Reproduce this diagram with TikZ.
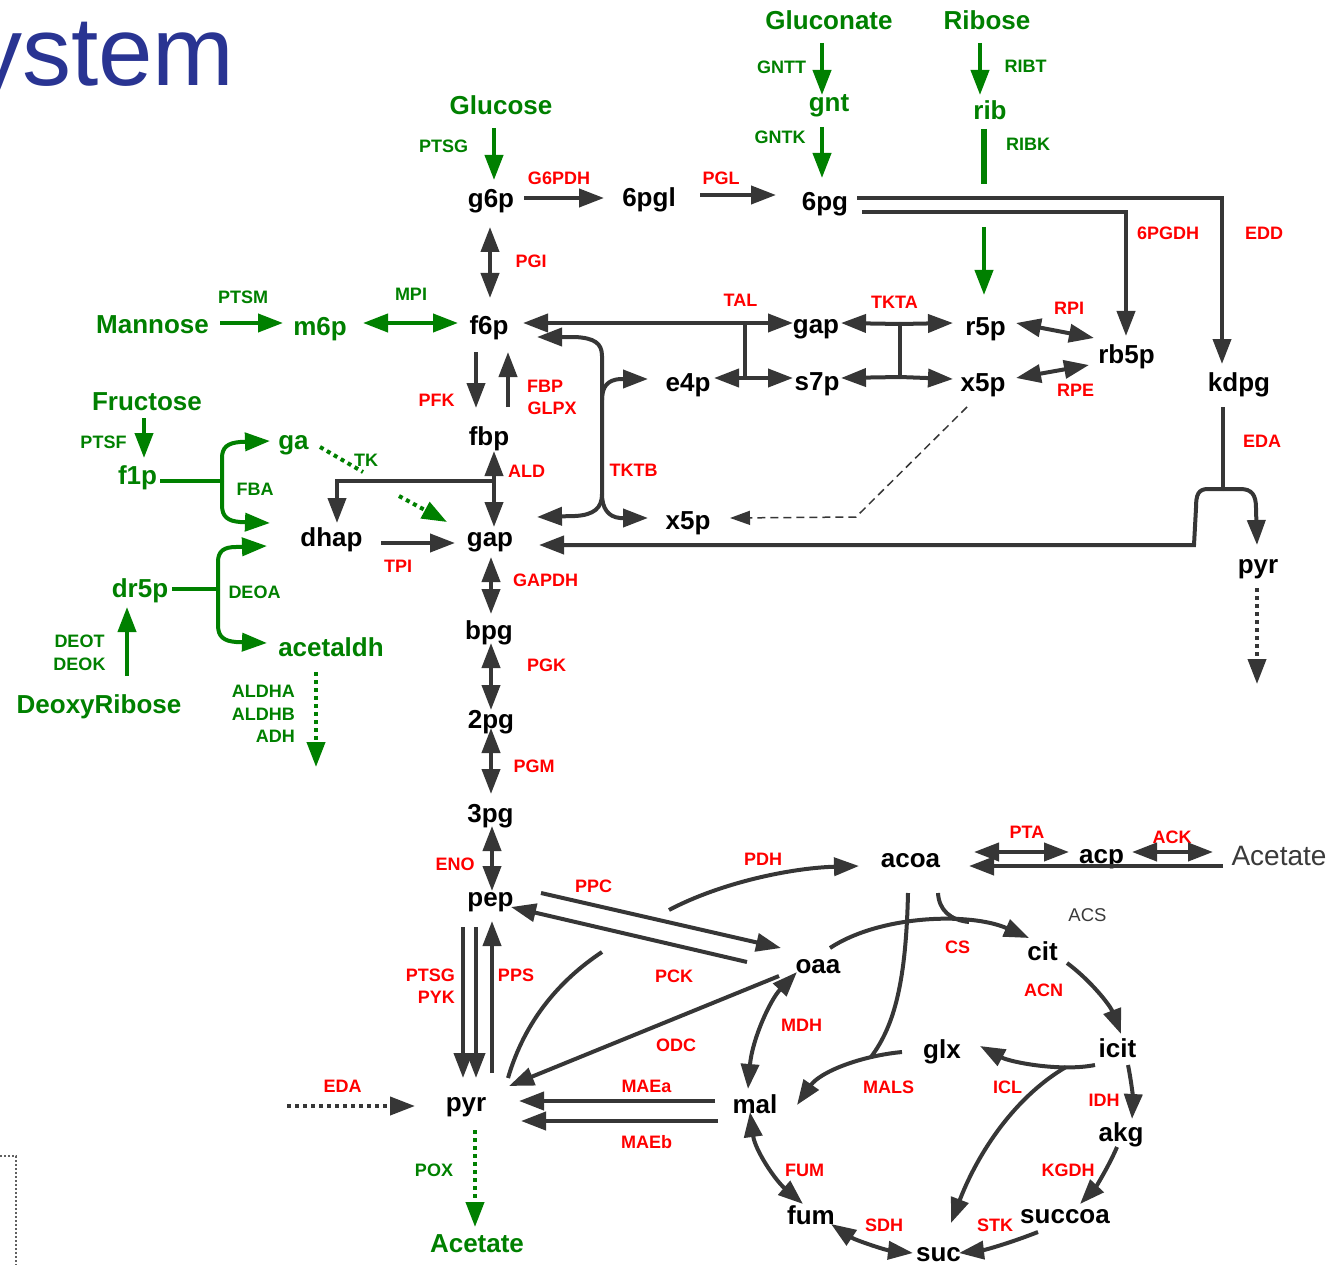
\documentclass[tikz,border=0pt]{standalone}
\usepackage{fontspec}
\setmainfont{Liberation Sans}
\usetikzlibrary{arrows.meta}
\definecolor{lc}{HTML}{363636}
\definecolor{gc}{HTML}{008000}
\definecolor{rc}{HTML}{FF0000}
\definecolor{tc}{HTML}{293492}
\definecolor{ac}{HTML}{3A3A3A}
\begin{document}
\begin{tikzpicture}[x=1pt,y=-1pt,
  >={Triangle[length=25pt,width=18pt]},
  ln/.style={line width=4pt, draw=lc},
  gl/.style={line width=4pt, draw=gc},
  dotln/.style={dash pattern=on 4pt off 4pt},
  met/.style={font=\fontsize{26}{28}\selectfont\bfseries, inner sep=0pt, text=black},
  gmet/.style={met, text=gc},
  enz/.style={font=\fontsize{18}{20}\selectfont\bfseries, inner sep=0pt, text=rc},
  genz/.style={enz, text=gc},
  gry/.style={inner sep=0pt, text=ac},
]
\useasboundingbox (0,0) rectangle (1333,1265);
\begin{scope}
\clip (0,0) rectangle (1333,1265);
\node[anchor=base west, inner sep=0pt, text=tc, font=\fontsize{98}{98}\selectfont] (title) at (-27,86) {ystem};
\end{scope}

% ---------- green metabolites ----------
\node[gmet] (gluconate) at (829,20.5) {Gluconate};
\node[gmet] (ribose) at (987,20.5) {Ribose};
\node[gmet] (gnt) at (829,106) {gnt};
\node[gmet] (rib) at (990,110) {rib};
\node[gmet] (glucose) at (501,105) {Glucose};
\node[gmet] (mannose) at (152.5,325) {Mannose};
\node[gmet] (m6p) at (320,329) {m6p};
\node[gmet] (fructose) at (147,402) {Fructose};
\node[gmet] (f1p) at (137.5,477.5) {f1p};
\node[gmet] (ga) at (293.5,445) {ga};
\node[gmet] (dr5p) at (140,591) {dr5p};
\node[gmet] (acetaldh) at (331,647) {acetaldh};
\node[gmet] (deoxy) at (99,707) {DeoxyRibose};
\node[gmet] (acetate) at (477,1244) {Acetate};

% ---------- green enzymes ----------
\node[genz] (gntt) at (781.5,67) {GNTT};
\node[genz] (gntk) at (780,137) {GNTK};
\node[genz] (ribt) at (1025.5,66) {RIBT};
\node[genz] (ribk) at (1028,144.5) {RIBK};
\node[genz] (ptsg) at (443.5,146) {PTSG};
\node[genz] (ptsm) at (243,297) {PTSM};
\node[genz] (mpi) at (411,294.5) {MPI};
\node[genz] (ptsf) at (103.5,442.5) {PTSF};
\node[genz] (tk) at (366,460) {TK};
\node[genz] (fba) at (255,489.5) {FBA};
\node[genz] (deoa) at (254.5,592) {DEOA};
\node[genz] (deot) at (79.5,641.5) {DEOT};
\node[genz] (deok) at (79.5,664) {DEOK};
\node[genz, anchor=east] (aldha) at (295,691.5) {ALDHA};
\node[genz, anchor=east] (aldhb) at (295,714.5) {ALDHB};
\node[genz, anchor=east] (adh) at (295,736.5) {ADH};
\node[genz] (pox) at (434,1170) {POX};

% ---------- black metabolites ----------
\node[met] (g6p) at (491,201.5) {g6p};
\node[met] (pgl6) at (649,200) {6pgl};
\node[met] (pg6) at (825,204) {6pg};
\node[met] (f6p) at (489,328) {f6p};
\node[met] (fbp) at (489,439) {fbp};
\node[met] (gap) at (490,542.5) {gap};
\node[met] (dhap) at (331.5,539.5) {dhap};
\node[met] (bpg) at (489,632.5) {bpg};
\node[met] (pg2) at (491,722.5) {2pg};
\node[met] (pg3) at (490.5,816) {3pg};
\node[met] (pep) at (490.5,902.5) {pep};
\node[met] (pyr) at (466,1107) {pyr};
\node[met] (gapb) at (816,329) {gap};
\node[met] (e4p) at (688,385) {e4p};
\node[met] (s7p) at (817,384.5) {s7p};
\node[met] (r5p) at (985.5,329) {r5p};
\node[met] (x5p) at (983,385) {x5p};
\node[met] (rb5p) at (1126.5,356.5) {rb5p};
\node[met] (kdpg) at (1239,384.5) {kdpg};
\node[met] (x5pb) at (688,523.5) {x5p};
\node[met] (pyrb) at (1258,569.5) {pyr};
\node[met] (acoa) at (910.5,861) {acoa};
\node[met] (acp) at (1101.5,859) {acp};
\node[met] (oaa) at (818,967) {oaa};
\node[met] (cit) at (1042.5,951) {cit};
\node[met] (icit) at (1117.5,1048.5) {icit};
\node[met] (glx) at (942,1051.5) {glx};
\node[met] (mal) at (755,1104) {mal};
\node[met] (akg) at (1121,1135) {akg};
\node[met] (fum) at (811,1215) {fum};
\node[met] (succoa) at (1065,1216.5) {succoa};
\node[met] (suc) at (938.5,1255) {suc};
\node[gry, font=\fontsize{28}{30}\selectfont] (acetateb) at (1279,856) {Acetate};
\node[gry, font=\fontsize{18.5}{20}\selectfont] (acs) at (1087.5,915.5) {ACS};

% ---------- red enzymes ----------
\node[enz] (g6pdh) at (559,178.5) {G6PDH};
\node[enz] (pgl) at (721,178.5) {PGL};
\node[enz] (pgi) at (531,261) {PGI};
\node[enz] (pgdh) at (1168,233.5) {6PGDH};
\node[enz] (edd) at (1264,233.5) {EDD};
\node[enz] (tal) at (740.5,300) {TAL};
\node[enz] (tkta) at (894.5,302.5) {TKTA};
\node[enz] (rpi) at (1069,308) {RPI};
\node[enz] (rpe) at (1075.5,390.5) {RPE};
\node[enz] (pfk) at (436.5,400.5) {PFK};
\node[enz] (fbpe) at (545,386) {FBP};
\node[enz] (glpx) at (552,408.5) {GLPX};
\node[enz] (ald) at (526.5,471.5) {ALD};
\node[enz] (tktb) at (633.5,470) {TKTB};
\node[enz] (tpi) at (398,566) {TPI};
\node[enz] (gapdh) at (545.5,580.5) {GAPDH};
\node[enz] (pgk) at (546.5,665.5) {PGK};
\node[enz] (pgm) at (534,766.5) {PGM};
\node[enz] (eda) at (1262,441.5) {EDA};
\node[enz] (eno) at (455,864) {ENO};
\node[enz] (ppc) at (593.5,886) {PPC};
\node[enz] (pdh) at (763,859) {PDH};
\node[enz, anchor=east] (ptsgb) at (455,975) {PTSG};
\node[enz, anchor=east] (pyk) at (455,997.5) {PYK};
\node[enz] (pps) at (516,975) {PPS};
\node[enz] (pck) at (674,976) {PCK};
\node[enz] (odc) at (676,1045) {ODC};
\node[enz] (cs) at (957.5,947.5) {CS};
\node[enz] (acn) at (1043.5,990) {ACN};
\node[enz] (mdh) at (801.5,1025) {MDH};
\node[enz] (mals) at (888.5,1087.5) {MALS};
\node[enz] (icl) at (1007.5,1087.5) {ICL};
\node[enz] (idh) at (1104,1100) {IDH};
\node[enz] (edab) at (342.5,1086) {EDA};
\node[enz] (maea) at (646.5,1086) {MAEa};
\node[enz] (maeb) at (646.5,1142) {MAEb};
\node[enz] (fume) at (804.5,1170) {FUM};
\node[enz] (kgdh) at (1068,1170) {KGDH};
\node[enz] (sdh) at (884,1225) {SDH};
\node[enz] (stk) at (995,1225) {STK};
\node[enz] (pta) at (1027,832) {PTA};
\node[enz] (ack) at (1172,837) {ACK};

% ---------- connector end points ----------
\coordinate (gluconate-s) at (822,43);
\coordinate (gnt-n) at (822,95);
\coordinate (gnt-s) at (822,127);
\coordinate (pg6-n) at (822,178);
\coordinate (ribose-s) at (980,43);
\coordinate (rib-n) at (980,95);
\coordinate (rib-s) at (984,129);
\coordinate (ribk-e) at (984,184);
\coordinate (ribk-r) at (984,227);
\coordinate (r5p-n) at (984,295);
\coordinate (glucose-s) at (494,128);
\coordinate (g6p-n) at (494,180);
\coordinate (mannose-e) at (220,323);
\coordinate (m6p-w) at (283,323);
\coordinate (m6p-e) at (363,323);
\coordinate (f6p-w) at (458,323);
\coordinate (fructose-s) at (144,418);
\coordinate (f1p-n) at (144,458);
\coordinate (f1p-e) at (160,481);
\coordinate (fba-j) at (222,481);
\coordinate (fba-t) at (222,458);
\coordinate (fba-b) at (222,505);
\coordinate (ga-w) at (270,441);
\coordinate (dhap-nw) at (270,523);
\coordinate (ga-e) at (320,447);
\coordinate (tk-a) at (363,472);
\coordinate (tk-b) at (399,496);
\coordinate (gap-nw) at (447,522);
\coordinate (dr5p-e) at (172,589);
\coordinate (deoa-j) at (218,589);
\coordinate (deoa-t) at (218,562);
\coordinate (deoa-b) at (218,625);
\coordinate (dhap-sw) at (267,546);
\coordinate (acetaldh-w) at (267,643);
\coordinate (deoxy-n) at (127,676);
\coordinate (dr5p-s) at (127,607);
\coordinate (acetaldh-s) at (316,672);
\coordinate (aldh-end) at (316,767);
\coordinate (pyr-s) at (475,1130);
\coordinate (acetate-n) at (475,1227);

\coordinate (g6p-e) at (524,198);
\coordinate (pgl6-w) at (604,198);
\coordinate (pgl6-e) at (700,195);
\coordinate (pg6-w) at (776,195);
\coordinate (g6p-s) at (490,227);
\coordinate (f6p-n) at (490,298);
\coordinate (pg6-e1) at (857,198);
\coordinate (edd-c) at (1222,198);
\coordinate (kdpg-n) at (1222,364);
\coordinate (pg6-e2) at (862,212);
\coordinate (pgdh-c) at (1126,212);
\coordinate (rb5p-n) at (1126,336);
\coordinate (f6p-s1) at (476,352);
\coordinate (fbp-n1) at (476,408);
\coordinate (fbp-n2) at (508,407);
\coordinate (f6p-s2) at (508,352);
\coordinate (fbp-s) at (494,451);
\coordinate (gap-n) at (494,527);
\coordinate (ald-j) at (494,481);
\coordinate (ald-c) at (337,481);
\coordinate (dhap-n) at (337,523);
\coordinate (dhap-e) at (381,543);
\coordinate (gap-w) at (455,543);
\coordinate (gap-s) at (491,557);
\coordinate (bpg-n) at (491,614);
\coordinate (bpg-s) at (491,643);
\coordinate (pg2-n) at (491,710);
\coordinate (pg2-s) at (491,728);
\coordinate (pg3-n) at (491,794);
\coordinate (pg3-s) at (492,826);
\coordinate (pep-n) at (492,891);
\coordinate (pep-s1) at (463,927);
\coordinate (pyr-n1) at (463,1078);
\coordinate (pep-s2) at (476,927);
\coordinate (pyr-n2) at (476,1078);
\coordinate (pyr-n3) at (492,1073);
\coordinate (pep-s3) at (492,921);
\coordinate (pep-e1) at (541,893);
\coordinate (oaa-w1) at (781,948);
\coordinate (oaa-w2) at (747,962);
\coordinate (pep-e2) at (511,907);
\coordinate (oaa-w3) at (779,976);
\coordinate (pyr-ne) at (509,1086);
\coordinate (pyr-ne2) at (508,1078);
\coordinate (pdh-a) at (602,952);
\coordinate (pdh-b) at (669,910);
\coordinate (acoa-w) at (859,866);
\coordinate (mal-w1) at (715,1101);
\coordinate (pyr-e1) at (519,1101);
\coordinate (mal-w2) at (718,1121);
\coordinate (pyr-e2) at (521,1121);
\coordinate (eda-start) at (287,1106);
\coordinate (pyr-w) at (415,1106);

\coordinate (tal-t) at (745,323);
\coordinate (tal-b) at (745,378);
\coordinate (f6p-e) at (523,323);
\coordinate (gapb-w) at (793,323);
\coordinate (e4p-e) at (714,378);
\coordinate (s7p-w) at (793,378);
\coordinate (ta-t) at (900,324);
\coordinate (ta-b) at (900,377);
\coordinate (gapb-e) at (841,323);
\coordinate (r5p-w) at (953,323);
\coordinate (s7p-e) at (841,378);
\coordinate (x5p-w) at (953,379);
\coordinate (tb-m) at (602,380);
\coordinate (tb-e) at (602,400);
\coordinate (tb-b) at (602,494);
\coordinate (f6p-se) at (537,337);
\coordinate (gap-ne) at (537,517);
\coordinate (e4p-w) at (648,379);
\coordinate (x5pb-w) at (648,518);
\coordinate (r5p-e) at (1016,323);
\coordinate (rb5p-w1) at (1094,338);
\coordinate (x5p-e) at (1016,378);
\coordinate (rb5p-w2) at (1089,365);
\coordinate (x5p-s) at (967,407);
\coordinate (xd-c) at (856,517);
\coordinate (x5pb-e) at (730,518);
\coordinate (kdpg-s) at (1223,407);
\coordinate (eda-j) at (1223,489);
\coordinate (pyrb-n) at (1257,545);
\coordinate (eda-c) at (1194,545);
\coordinate (gap-e) at (539,545);
\coordinate (pyrb-s) at (1257,588);
\coordinate (pyrb-end) at (1257,684);

\coordinate (acoa-e1) at (974,852);
\coordinate (acp-w) at (1069,852);
\coordinate (acp-e) at (1132,852);
\coordinate (acetateb-w) at (1213,852);
\coordinate (acetateb-sw) at (1223,866);
\coordinate (acoa-e2) at (969,866);
\coordinate (oaa-ne) at (830,948);
\coordinate (cit-w) at (1029,938);
\coordinate (acoa-se) at (938,893);
\coordinate (cs-j) at (969,922);
\coordinate (acoa-s) at (908,893);
\coordinate (mals-j) at (871,1057);
\coordinate (glx-w) at (902,1052);
\coordinate (mal-ne) at (797,1105);
\coordinate (oaa-sw) at (797,972);
\coordinate (mal-n) at (748,1089);
\coordinate (mal-s) at (750,1112);
\coordinate (fum-n) at (803,1204);
\coordinate (fum-e) at (831,1224);
\coordinate (suc-w) at (913,1253);
\coordinate (succoa-sw) at (1038,1232);
\coordinate (suc-e) at (959,1253);
\coordinate (akg-s) at (1117,1147);
\coordinate (succoa-n) at (1080,1204);
\coordinate (icit-s) at (1128,1065);
\coordinate (akg-n) at (1132,1119);
\coordinate (cit-se) at (1067,963);
\coordinate (icit-n) at (1121,1034);
\coordinate (icit-sw) at (1095,1065);
\coordinate (glx-e) at (980,1046);
\coordinate (icl-j) at (1066,1067);
\coordinate (suc-n) at (951,1223);
\coordinate (box-a) at (0,1156);
\coordinate (box-b) at (16,1156);
\coordinate (box-c) at (16,1265);

% ---------- green connectors ----------
\draw[gl,->] (gluconate-s) -- (gnt-n);
\draw[gl,->] (gnt-s) -- (pg6-n);
\draw[gl,->] (ribose-s) -- (rib-n);
\draw[draw=gc, line width=6pt] (rib-s) -- (ribk-e);
\draw[gl,->] (ribk-r) -- (r5p-n);
\draw[gl,->] (glucose-s) -- (g6p-n);
\draw[gl,->] (mannose-e) -- (m6p-w);
\draw[gl,<->] (m6p-e) -- (f6p-w);
\draw[gl,->] (fructose-s) -- (f1p-n);
\draw[gl] (f1p-e) -- (fba-j);
\draw[gl,->] (fba-j) -- (fba-t) .. controls (222,447) and (228,443) .. (240,442) -- (ga-w);
\draw[gl,->] (fba-j) -- (fba-b) .. controls (222,517) and (228,521) .. (240,522) -- (dhap-nw);
\draw[gl,dotln] (ga-e) -- (tk-a);
\draw[gl,dotln,->] (tk-b) -- (gap-nw);
\draw[gl] (dr5p-e) -- (deoa-j);
\draw[gl,->] (deoa-j) -- (deoa-t) .. controls (218,551) and (224,547) .. (236,547) -- (dhap-sw);
\draw[gl,->] (deoa-j) -- (deoa-b) .. controls (218,637) and (224,641) .. (236,642) -- (acetaldh-w);
\draw[gl,->] (deoxy-n) -- (dr5p-s);
\draw[gl,dotln,->] (acetaldh-s) -- (aldh-end);
\draw[gl,dotln,->] (pyr-s) -- (acetate-n);

% ---------- black connectors ----------
\draw[ln,->] (g6p-e) -- (pgl6-w);
\draw[ln,->] (pgl6-e) -- (pg6-w);
\draw[ln,<->] (g6p-s) -- (f6p-n);
\draw[ln,->] (pg6-e1) -- (edd-c) -- (kdpg-n);
\draw[ln,->] (pg6-e2) -- (pgdh-c) -- (rb5p-n);
\draw[ln,->] (f6p-s1) -- (fbp-n1);
\draw[ln,->] (fbp-n2) -- (f6p-s2);
\draw[ln,<->] (fbp-s) -- (gap-n);
\draw[ln,->] (ald-j) -- (ald-c) -- (dhap-n);
\draw[ln,->] (dhap-e) -- (gap-w);
\draw[ln,<->] (gap-s) -- (bpg-n);
\draw[ln,<->] (bpg-s) -- (pg2-n);
\draw[ln,<->] (pg2-s) -- (pg3-n);
\draw[ln,<->] (pg3-s) -- (pep-n);
\draw[ln,->] (pep-s1) -- (pyr-n1);
\draw[ln,->] (pep-s2) -- (pyr-n2);
\draw[ln,->] (pyr-n3) -- (pep-s3);
\draw[ln,->] (pep-e1) -- (oaa-w1);
\draw[ln,->] (oaa-w2) -- (pep-e2);
\draw[ln,->] (oaa-w3) -- (pyr-ne);
\draw[ln] (pyr-ne2) .. controls (525,1020) and (560,980) .. (pdh-a);
\draw[ln,->] (pdh-b) .. controls (720,883) and (790,868) .. (acoa-w);
\draw[ln,->] (mal-w1) -- (pyr-e1);
\draw[ln,->] (mal-w2) -- (pyr-e2);
\draw[ln,dotln,->] (eda-start) -- (pyr-w);

% TAL
\draw[ln] ([yshift=2pt]tal-t) -- ([yshift=-2pt]tal-b);
\draw[ln,->] (tal-t) -- (f6p-e);
\draw[ln,->] (tal-t) -- (gapb-w);
\draw[ln,->] (tal-b) -- (e4p-e);
\draw[ln,->] (tal-b) -- (s7p-w);
% TKTA
\draw[ln] ([yshift=2pt]ta-t) -- ([yshift=-2pt]ta-b);
\draw[ln,->] (ta-t) -- (gapb-e);
\draw[ln,->] (ta-t) -- (r5p-w);
\draw[ln,->] (ta-b) -- (s7p-e);
\draw[ln,->] (ta-b) -- (x5p-w);
% TKTB
\draw[ln,->] (tb-m) -- (602,356) .. controls (602,343) and (594,338) .. (575,337) -- (f6p-se);
\draw[ln,->] (tb-m) -- (tb-b) .. controls (602,508) and (594,515) .. (575,516) -- (gap-ne);
\draw[ln,->] (tb-e) .. controls (602,386) and (608,380) .. (620,379) -- (e4p-w);
\draw[ln,->] (tb-b) .. controls (602,508) and (608,517) .. (620,518) -- (x5pb-w);
% RPI, RPE
\draw[ln,<->] (r5p-e) -- (rb5p-w1);
\draw[ln,<->] (x5p-e) -- (rb5p-w2);
\draw[draw=lc, line width=1.5pt, dash pattern=on 8pt off 5pt, -{Triangle[length=20pt,width=14pt]}] (x5p-s) -- (xd-c) -- (x5pb-e);
% EDA
\draw[ln] (kdpg-s) -- (eda-j);
\draw[ln,->] (eda-j) -- (1240,489) .. controls (1252,489) and (1256,495) .. (1256,508) -- (pyrb-n);
\draw[ln,->] (eda-j) -- (1208,489) .. controls (1198,489) and (1196,495) .. (1196,508) -- (eda-c) -- (gap-e);
\draw[ln,dotln,->] (pyrb-s) -- (pyrb-end);

% acetate branch
\draw[ln,<->] (acoa-e1) -- (acp-w);
\draw[ln,<->] (acp-e) -- (acetateb-w);
\draw[ln,->] (acetateb-sw) -- (acoa-e2);

% TCA and glyoxylate shunt
\draw[ln,->] (oaa-ne) .. controls (880,915) and (970,912) .. (cit-w);
\draw[ln] (acoa-se) .. controls (939,910) and (950,920) .. (cs-j);
\draw[ln] (acoa-s) .. controls (906,980) and (895,1025) .. (mals-j);
\draw[ln,->] (glx-w) .. controls (860,1056) and (820,1072) .. (mal-ne);
\draw[ln,<->] (oaa-sw) .. controls (770,1000) and (752,1040) .. (mal-n);
\draw[ln,<->] (mal-s) .. controls (755,1150) and (775,1180) .. (fum-n);
\draw[ln,<->] (fum-e) .. controls (855,1240) and (885,1250) .. (suc-w);
\draw[ln,->] (succoa-sw) .. controls (1010,1243) and (985,1250) .. (suc-e);
\draw[ln,->] (akg-s) .. controls (1108,1168) and (1095,1188) .. (succoa-n);
\draw[ln,->] (icit-s) .. controls (1132,1085) and (1133,1100) .. (akg-n);
\draw[ln,->] (cit-se) .. controls (1090,980) and (1110,1005) .. (icit-n);
\draw[ln,->] (icit-sw) .. controls (1060,1072) and (1010,1062) .. (glx-e);
\draw[ln,->] (icl-j) .. controls (1010,1100) and (975,1160) .. (suc-n);

% corner of a dotted frame
\draw[draw=ac!80, line width=1.5pt, dash pattern=on 2pt off 2pt] (box-a) -- (box-b) -- (box-c);
\end{tikzpicture}
\end{document}
